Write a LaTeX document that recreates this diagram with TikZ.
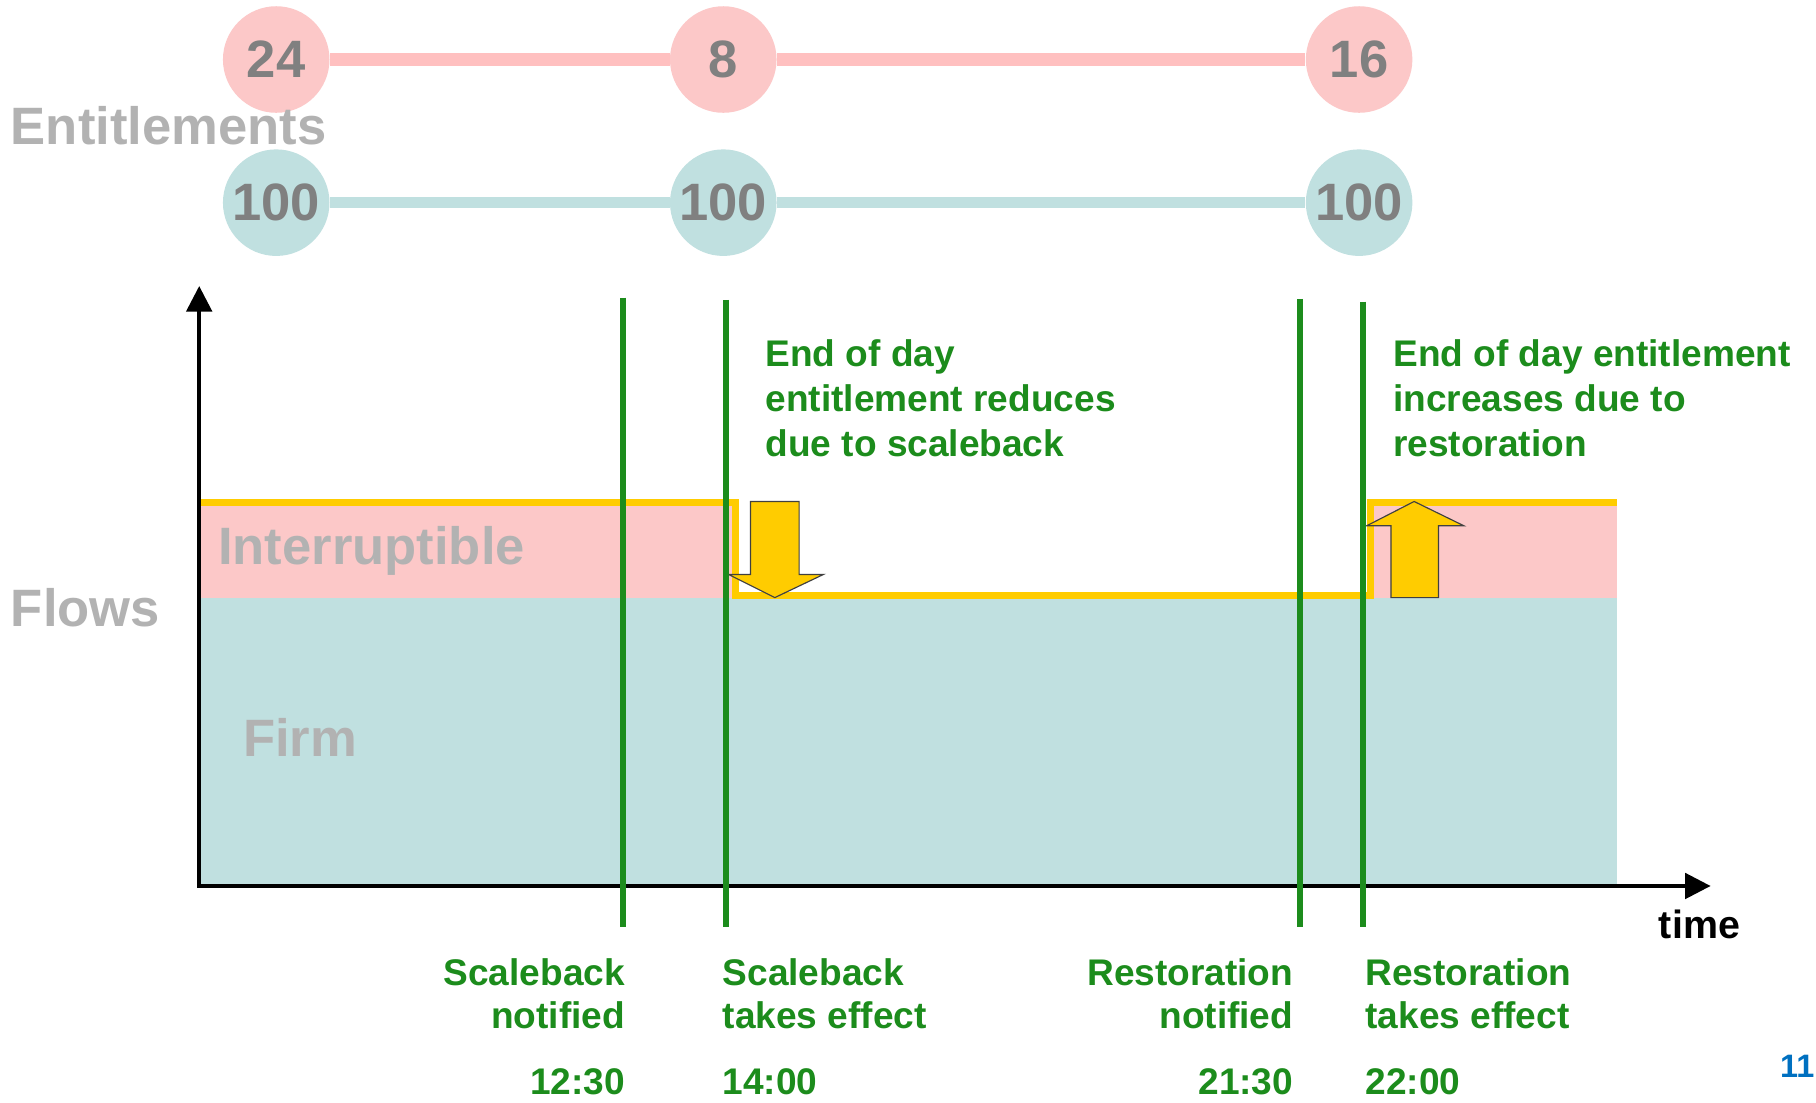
\documentclass[tikz,border=0pt]{standalone}
\usepackage{fontspec}
\setmainfont{Liberation Sans}
\usetikzlibrary{arrows.meta}

\begin{document}
\begin{tikzpicture}[x=1pt,y=1pt,
  entCircle/.style={circle,inner sep=0pt,minimum size=46pt,text=numColor,
    font=\fontsize{22.7}{27}\selectfont\bfseries},
  bigLabel/.style={text=labelColor,anchor=base west,inner sep=0pt,
    font=\fontsize{22.7}{27}\selectfont\bfseries},
  noteText/.style={text=noteColor,align=left,anchor=north west,inner sep=0pt,
    font=\fontsize{16}{19.5}\selectfont\bfseries},
  eventText/.style={text=noteColor,inner sep=0pt,
    font=\fontsize{16}{18.7}\selectfont\bfseries},
  eventLine/.style={draw=noteColor,line width=2.6pt},
  blockArrow/.style={fill=arrowColor,draw=edgeColor,line width=0.5pt}]
\definecolor{fillColor}{RGB}{255,255,255}
\definecolor{pinkFill}{RGB}{252,200,200}
\definecolor{pinkLine}{RGB}{255,192,192}
\definecolor{tealFill}{RGB}{192,224,224}
\definecolor{numColor}{RGB}{128,128,128}
\definecolor{labelColor}{RGB}{178,178,178}
\definecolor{noteColor}{RGB}{28,140,28}
\definecolor{arrowColor}{RGB}{255,204,0}
\definecolor{edgeColor}{RGB}{64,64,64}
\definecolor{pageColor}{RGB}{0,112,192}
\path[use as bounding box,fill=fillColor] (0,0) rectangle (784,476);

% entitlements
\node[entCircle,fill=pinkFill] (int1) at (119.25,450.3) {24};
\node[entCircle,fill=pinkFill] (int2) at (312.25,450.3) {8};
\node[entCircle,fill=pinkFill] (int3) at (586.75,450.3) {16};
\node[entCircle,fill=tealFill] (firm1) at (119.25,388.5) {100};
\node[entCircle,fill=tealFill] (firm2) at (312.25,388.5) {100};
\node[entCircle,fill=tealFill] (firm3) at (586.75,388.5) {100};
\path[draw=pinkLine,line width=5.5pt] (int1) -- (int2) -- (int3);
\path[draw=tealFill,line width=5pt] (firm1) -- (firm2) -- (firm3);
\node[bigLabel] (entLabel) at (4.5,413.4) {Entitlements};

% flows
\path[fill=tealFill] (86,93.5) rectangle (698,218);
\path[fill=pinkFill] (86,218) rectangle (316,259);
\path[fill=pinkFill] (591.5,218) rectangle (698,259);
\path[draw=arrowColor,line width=3pt] (86,259) -- (317.5,259) -- (317.5,219) --
	(591.5,219) -- (591.5,259) -- (698,259);
\node[bigLabel] (flowLabel) at (4.5,205.5) {Flows};
\node[bigLabel] (intLabel) at (94,232.5) {Interruptible};
\node[bigLabel] (firmLabel) at (104.8,149.5) {Firm};

\path[blockArrow] (324,259.5) -- (345,259.5) -- (345,228) -- (355.5,228) --
	(334.5,218) -- (314.5,228) -- (324,228) -- cycle;
\path[blockArrow] (600.5,218) -- (621,218) -- (621,249) -- (632,249) --
	(610.5,259.5) -- (590,249) -- (600.5,249) -- cycle;

% axes
\coordinate (origin) at (86,93.5);
\coordinate (yEnd) at (86,352.5);
\coordinate (xEnd) at (738.5,93.5);
\draw[{Triangle[length=11pt,width=11pt]}-{Triangle[length=11pt,width=11pt]},
	line width=1.5pt] (yEnd) -- (origin) -- (xEnd);
\node[anchor=base west,inner sep=0pt,font=\fontsize{17}{20}\selectfont\bfseries]
	(timeLabel) at (716,71) {time};

% events
\path[eventLine] (268.75,347.5) -- (268.75,76);
\path[eventLine] (313.25,346.5) -- (313.25,76);
\path[eventLine] (561.25,347) -- (561.25,76);
\path[eventLine] (588.5,345.8) -- (588.5,76);

\node[noteText] (scaleNote) at (330.3,329.6) {End of day\\entitlement reduces\\due to scaleback};
\node[noteText] (restoreNote) at (601.3,329.6) {End of day entitlement\\increases due to\\restoration};

\node[eventText,align=right,anchor=north east] (sbNotified) at (270,62.3) {Scaleback\\notified\\[9.8pt]12:30};
\node[eventText,align=left,anchor=north west] (sbEffect) at (311.8,62.3) {Scaleback\\takes effect\\[9.8pt]14:00};
\node[eventText,align=right,anchor=north east] (rsNotified) at (558.5,62.3) {Restoration\\notified\\[9.8pt]21:30};
\node[eventText,align=left,anchor=north west] (rsEffect) at (589.3,62.3) {Restoration\\takes effect\\[9.8pt]22:00};

\node[text=pageColor,anchor=base east,inner sep=0pt,font=\fontsize{14}{17}\selectfont\bfseries]
	(pageNum) at (783.5,11) {11};
\end{tikzpicture}
\end{document}
